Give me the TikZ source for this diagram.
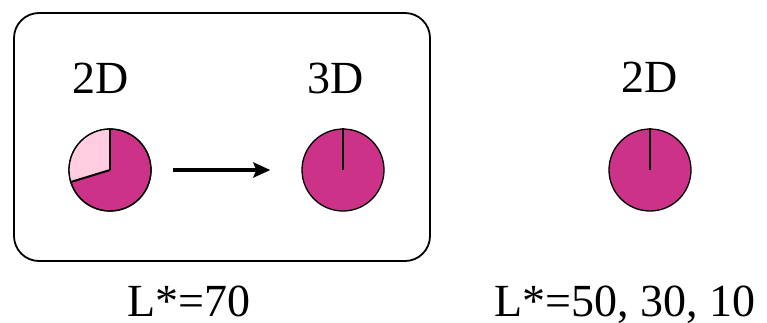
\documentclass[tikz,border=0pt]{standalone}
\usepackage{fontspec}
\setmainfont{Liberation Serif}
\usetikzlibrary{arrows.meta}
\definecolor{piedark}{RGB}{204,51,136}
\definecolor{pielight}{RGB}{255,204,224}
\tikzset{
  pie/.style={circle, draw=black, line width=1.3pt, fill=piedark, minimum size=82pt, inner sep=0pt},
  lbl/.style={font=\fontsize{46}{50}\selectfont, anchor=base, inner sep=0pt, text depth=0pt},
  panel/.style={draw=black, line width=1.8pt, rounded corners=25pt, minimum width=416pt, minimum height=248pt, inner sep=0pt},
  bigarrow/.style={line width=4.5pt, -{Stealth[length=17pt,width=15pt,inset=3pt]}},
  radius line/.style={line width=1.6pt}
}
\begin{document}
\begin{tikzpicture}[x=1pt,y=-1pt]
\useasboundingbox (0,0) rectangle (767,322);
\node[panel] (box) at (222,137) {};
% pies
\node[pie] (p1) at (110,170) {};
\node[pie] (p2) at (343,170) {};
\node[pie] (p3) at (650,170) {};
% light sector of first pie (y axis points down, so angles are mirrored)
\fill[pielight] (p1.center) -- ++(0,-41) arc[start angle=-90, end angle=-197, radius=41] -- cycle;
\draw[line width=1.3pt] (p1.center) circle[radius=41];
\draw[line width=2pt] (p1.center) -- ++(0,-41);
\draw[line width=2pt] (p1.center) -- ++({41*cos(197)},{-41*sin(197)});
\draw[radius line] (p2.center) -- (p2.north);
\draw[radius line] (p3.center) -- (p3.north);
% arrow
\draw[bigarrow] ([xshift=21pt]p1.east) -- ([xshift=-31pt]p2.west);
% labels
\node[lbl] (t1) at (101,93) {2D};
\node[lbl] (t2) at (336,93) {3D};
\node[lbl] (t3) at (650,92) {2D};
\node[lbl] (b1) at (189,316) {L*=70};
\node[lbl] (b2) at (625,316) {L*=50, 30, 10};
\end{tikzpicture}
\end{document}
